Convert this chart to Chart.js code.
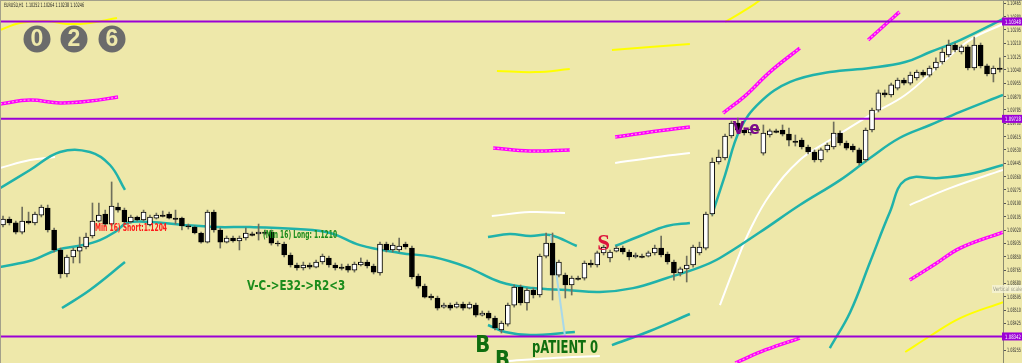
<script src="https://cdn.jsdelivr.net/npm/chart.js"></script>
<style>
    body {
        margin: 0;
        padding: 0;
        background-color: #eee8aa;
    }
    canvas {
        display: block;
    }
</style>

<canvas id="chart" width="1022" height="363"></canvas>

<script>
    // EURUSD H1 candles (one entry per bar)
    const opens = [
        1.09052,1.09090,1.09065,1.09007,1.09077,1.09065,1.09115,1.09160,1.09020,1.08893,
        1.08740,1.08848,1.08886,1.08912,1.08982,1.09077,1.09122,1.09058,1.09166,1.09147,
        1.09071,1.09103,1.09084,1.09052,1.09096,1.09115,1.09122,1.09096,1.09096,1.09046,
        1.09039,1.09001,1.08943,1.09134,1.09020,1.08943,1.08969,1.08950,1.08969,1.08995,
        1.08995,1.09007,1.09007,1.08937,1.08931,1.08861,1.08797,1.08778,1.08797,1.08784,
        1.08816,1.08842,1.08797,1.08784,1.08791,1.08765,1.08797,1.08816,1.08791,1.08746,
        1.08931,1.08893,1.08893,1.08931,1.08905,1.08727,1.08663,1.08599,1.08587,1.08529,
        1.08542,1.08529,1.08548,1.08523,1.08542,1.08478,1.08491,1.08459,1.08383,1.08421,
        1.08542,1.08657,1.08555,1.08638,1.08606,1.08854,1.08937,1.08733,1.08733,1.08670,
        1.08714,1.08714,1.08810,1.08797,1.08874,1.08842,1.08886,1.08905,1.08880,1.08848,
        1.08854,1.08854,1.08874,1.08905,1.08867,1.08816,1.08746,1.08772,1.08797,1.08874,
        1.08905,1.09122,1.09453,1.09479,1.09619,1.09701,1.09657,1.09638,1.09663,1.09510,
        1.09625,1.09651,1.09657,1.09631,1.09587,1.09593,1.09549,1.09517,1.09466,1.09530,
        1.09549,1.09638,1.09574,1.09555,1.09530,1.09466,1.09657,1.09784,1.09893,1.09880,
        1.09924,1.09975,1.09956,1.09988,1.10026,1.10007,1.10052,1.10090,1.10135,1.10198,
        1.10154,1.10186,1.10052,1.10198,1.10065,1.10014,1.10052
    ];
    const highs = [
        1.09109,1.09103,1.09077,1.09166,1.09134,1.09134,1.09179,1.09179,1.09033,1.08905,
        1.08861,1.08905,1.08975,1.09001,1.09192,1.09192,1.09147,1.09326,1.09192,1.09160,
        1.09115,1.09109,1.09147,1.09115,1.09128,1.09141,1.09134,1.09147,1.09103,1.09058,
        1.09046,1.09007,1.09147,1.09147,1.09033,1.08982,1.08982,1.08982,1.09033,1.09007,
        1.09058,1.09020,1.09020,1.08950,1.08943,1.08874,1.08810,1.08816,1.08810,1.08829,
        1.08867,1.08854,1.08810,1.08803,1.08803,1.08816,1.08842,1.08829,1.08803,1.08943,
        1.08943,1.08937,1.08969,1.08943,1.08918,1.08740,1.08676,1.08612,1.08599,1.08555,
        1.08555,1.08561,1.08561,1.08561,1.08555,1.08504,1.08504,1.08472,1.08440,1.08555,
        1.08670,1.08670,1.08650,1.08650,1.08867,1.09001,1.09001,1.08829,1.08746,1.08727,
        1.08727,1.08823,1.08829,1.08886,1.08924,1.08893,1.08918,1.08918,1.08893,1.08874,
        1.08867,1.08886,1.08924,1.08982,1.08880,1.08829,1.08784,1.08854,1.08924,1.08943,
        1.09134,1.09479,1.09530,1.09631,1.09714,1.09733,1.09670,1.09676,1.09689,1.09689,
        1.09663,1.09663,1.09689,1.09670,1.09625,1.09606,1.09561,1.09530,1.09542,1.09574,
        1.09708,1.09651,1.09587,1.09568,1.09542,1.09670,1.09797,1.09912,1.09912,1.09956,
        1.09988,1.09988,1.10026,1.10039,1.10039,1.10065,1.10116,1.10179,1.10230,1.10211,
        1.10198,1.10198,1.10249,1.10211,1.10077,1.10065,1.10116
    ];
    const lows = [
        1.09039,1.09052,1.08995,1.08995,1.09058,1.09052,1.09103,1.09007,1.08880,1.08714,
        1.08721,1.08810,1.08810,1.08899,1.08969,1.09071,1.09046,1.09046,1.09134,1.09058,
        1.09065,1.09077,1.09077,1.09046,1.09090,1.09103,1.09090,1.09058,1.09020,1.09026,
        1.08995,1.08937,1.08937,1.09007,1.08905,1.08937,1.08943,1.08893,1.08956,1.08982,
        1.08956,1.08988,1.08924,1.08918,1.08848,1.08784,1.08765,1.08765,1.08772,1.08778,
        1.08803,1.08784,1.08765,1.08765,1.08752,1.08752,1.08791,1.08778,1.08740,1.08733,
        1.08880,1.08880,1.08880,1.08899,1.08708,1.08650,1.08587,1.08574,1.08510,1.08523,
        1.08510,1.08523,1.08510,1.08517,1.08466,1.08472,1.08447,1.08383,1.08364,1.08408,
        1.08529,1.08542,1.08510,1.08587,1.08593,1.08842,1.08574,1.08721,1.08587,1.08606,
        1.08701,1.08701,1.08784,1.08784,1.08861,1.08816,1.08880,1.08867,1.08829,1.08842,
        1.08842,1.08848,1.08861,1.08848,1.08803,1.08701,1.08727,1.08689,1.08784,1.08861,
        1.08893,1.09109,1.09440,1.09466,1.09606,1.09644,1.09625,1.09625,1.09651,1.09497,
        1.09612,1.09638,1.09619,1.09555,1.09555,1.09536,1.09504,1.09453,1.09453,1.09517,
        1.09536,1.09561,1.09530,1.09517,1.09434,1.09453,1.09644,1.09772,1.09867,1.09867,
        1.09912,1.09944,1.09944,1.09975,1.09995,1.09995,1.10039,1.10077,1.10122,1.10154,
        1.10141,1.10039,1.10039,1.10052,1.10001,1.09963,1.10026
    ];
    const closes = [
        1.09090,1.09065,1.09007,1.09077,1.09065,1.09122,1.09166,1.09020,1.08893,1.08740,
        1.08848,1.08893,1.08912,1.08975,1.09077,1.09115,1.09058,1.09173,1.09147,1.09071,
        1.09103,1.09084,1.09134,1.09103,1.09115,1.09106,1.09096,1.09087,1.09046,1.09039,
        1.09001,1.08943,1.09134,1.09020,1.08943,1.08969,1.08950,1.08969,1.09001,1.08986,
        1.09007,1.08998,1.08937,1.08931,1.08861,1.08797,1.08778,1.08797,1.08784,1.08816,
        1.08854,1.08797,1.08778,1.08775,1.08765,1.08803,1.08816,1.08791,1.08752,1.08931,
        1.08893,1.08924,1.08918,1.08912,1.08721,1.08663,1.08593,1.08587,1.08523,1.08542,
        1.08523,1.08548,1.08523,1.08548,1.08478,1.08491,1.08459,1.08396,1.08427,1.08542,
        1.08657,1.08555,1.08638,1.08606,1.08854,1.08937,1.08733,1.08816,1.08670,1.08714,
        1.08705,1.08810,1.08797,1.08874,1.08912,1.08880,1.08905,1.08880,1.08848,1.08861,
        1.08845,1.08874,1.08905,1.08861,1.08816,1.08746,1.08772,1.08797,1.08912,1.08912,
        1.09122,1.09453,1.09485,1.09619,1.09701,1.09657,1.09638,1.09663,1.09654,1.09638,
        1.09651,1.09642,1.09631,1.09593,1.09578,1.09549,1.09517,1.09466,1.09530,1.09561,
        1.09638,1.09574,1.09542,1.09530,1.09447,1.09657,1.09784,1.09893,1.09880,1.09944,
        1.09975,1.09956,1.10007,1.10026,1.10007,1.10052,1.10090,1.10154,1.10198,1.10167,
        1.10186,1.10052,1.10198,1.10065,1.10014,1.10052,1.10043
    ];

    // price scale labels on the right
    const tickValues = [
        1.10465, 1.10380, 1.10295, 1.10210, 1.10125, 1.10040, 1.09955, 1.09870, 1.09785, 1.09700,
        1.09615, 1.09530, 1.09445, 1.09360, 1.09275, 1.09190, 1.09105, 1.09020, 1.08935, 1.08850,
        1.08765, 1.08680, 1.08595, 1.08510, 1.08425, 1.08340, 1.08255
    ];

    // horizontal levels (purple)
    const levels = [1.10348, 1.09728, 1.08342];

    // indicator lines as [bar index, price]
    const tealMid = [[-0.47,1.08784],[4.69,1.08829],[8.45,1.08893],[12.52,1.08924],[15.18,1.08956],[17.53,1.09007],
        [19.41,1.09065],[23.0,1.09071],[28.17,1.09052],[33.49,1.09039],[38.65,1.09039],[46.0,1.09026],[51.2,1.09001],
        [55.87,1.08924],[62.13,1.08874],[67.3,1.08848],[72.6,1.08784],[77.8,1.08689],[82.9,1.08650],[88.26,1.08638],
        [93.4,1.08625],[98.6,1.08650],[103.9,1.08714],[109.1,1.08784],[112.2,1.08842],[118.5,1.09007],[124.7,1.09179],
        [131.0,1.09338],[135.7,1.09479],[140.3,1.09606],[145.1,1.09689],[149.8,1.09772],[156.5,1.09880]];

    const tealUpper = [
        [[-0.47,1.09287],[4.23,1.09402],[8.92,1.09517],[13.6,1.09517],[16.74,1.09434],[19.09,1.09275]],
        [[75.9,1.08975],[79.3,1.08995],[82.5,1.08982],[85.6,1.08988],[89.8,1.08918]],
        [[95.8,1.08918],[99.7,1.08982],[103.9,1.09046],[107.5,1.09065]],
        [[110.95,1.09115],[113.0,1.09370],[115.3,1.09657],[118.5,1.09835],[123.2,1.09963],[129.4,1.10026],
         [135.7,1.10052],[141.2,1.10090],[145.1,1.10154],[149.8,1.10230],[156.5,1.10364]]
    ];
    const tealLower = [
        [[9.23,1.08523],[13.6,1.08638],[19.09,1.08816]],
        [[75.9,1.08415],[78.6,1.08370],[82.5,1.08351],[89.5,1.08370]],
        [[95.3,1.08287],[101.25,1.08377],[107.5,1.08485]],
        [[129.4,1.08268],[132.6,1.08498],[135.7,1.08816],[138.8,1.09134],[141.2,1.09338],
         [146.6,1.09351],[151.3,1.09377],[156.5,1.09434]]
    ];
    const whiteLines = [
        [[-0.47,1.09415],[4.23,1.09466],[8.14,1.09485]],
        [[76.5,1.09109],[82.5,1.09134],[87.95,1.09128]],
        [[78.6,1.08185],[85.6,1.08204],[93.4,1.08217]],
        [[95.8,1.09447],[101.25,1.09479],[107.5,1.09510]],
        [[112.2,1.08542],[114.6,1.08797],[116.9,1.09020],[120.0,1.09243],[124.7,1.09466],[129.4,1.09593],
         [135.7,1.09752],[141.2,1.09880],[146.6,1.10071],[151.3,1.10230],[156.5,1.10332]],
        [[141.9,1.09179],[148.2,1.09287],[156.5,1.09402]]
    ];
    const magentaLines = [
        [[-0.47,1.09823],[4.23,1.09848],[8.92,1.09829],[13.6,1.09841],[18.0,1.09867]],
        [[76.7,1.09542],[82.5,1.09523],[88.7,1.09530]],
        [[95.8,1.09612],[101.25,1.09644],[107.5,1.09676]],
        [[112.7,1.09765],[116.1,1.09873],[120.0,1.10026],[124.7,1.10179]],
        [[135.4,1.10230],[138.0,1.10326],[140.3,1.10409]],
        [[114.6,1.08173],[119.3,1.08256],[124.7,1.08332]],
        [[141.9,1.08701],[145.9,1.08803],[149.8,1.08905],[156.5,1.09007]]
    ];
    const yellowLines = [
        [[-0.47,1.10294],[2.66,1.10339],[6.89,1.10351],[10.0,1.10332],[13.6,1.10339],[17.84,1.10370]],
        [[77.3,1.10033],[83.3,1.10026],[88.7,1.10045]],
        [[95.3,1.10167],[101.25,1.10186],[107.5,1.10205]],
        [[113.0,1.10345],[115.7,1.10409],[118.5,1.10485],[120.0,1.10549]],
        [[141.2,1.08243],[145.1,1.08345],[149.8,1.08459],[156.5,1.08561]]
    ];
    const trendLine = [[85.76,1.08988],[87.95,1.08345]];

    const xMin = -0.47, xMax = 156.5;
    const yMin = 1.08173, yMax = 1.10485;

    function lineSet(points, color, width, order, dash) {
        return {
            type: 'line',
            data: points.map(p => ({ x: p[0], y: p[1] })),
            borderColor: color,
            borderWidth: width,
            borderDash: dash || [],
            pointRadius: 0,
            tension: 0.4,
            fill: false,
            order: order
        };
    }

    const datasets = [];

    // candle bodies on top, wicks just under them
    datasets.push({
        type: 'bar',
        data: opens.map((o, i) => ({ x: i, y: [o, closes[i]] })),
        backgroundColor: opens.map((o, i) => closes[i] >= o ? '#ffffff' : '#000000'),
        borderColor: '#000000',
        borderWidth: 1,
        borderSkipped: false,
        barThickness: 5,
        grouped: false,
        order: 0
    });
    datasets.push({
        type: 'bar',
        data: highs.map((h, i) => ({ x: i, y: [lows[i], h] })),
        backgroundColor: '#6f6f5c',
        barThickness: 1,
        grouped: false,
        order: 1
    });

    levels.forEach(v => datasets.push(lineSet([[xMin, v], [xMax, v]], '#9b00d6', 2, 2)));

    datasets.push(lineSet(trendLine, '#a9d8e8', 2, 3));
    datasets.push(lineSet(tealMid, '#20b2aa', 2.5, 4));
    tealUpper.forEach(s => datasets.push(lineSet(s, '#20b2aa', 2.5, 4)));
    tealLower.forEach(s => datasets.push(lineSet(s, '#20b2aa', 2.5, 4)));
    whiteLines.forEach(s => datasets.push(lineSet(s, '#ffffff', 2, 5)));
    yellowLines.forEach(s => datasets.push(lineSet(s, '#ffff00', 2, 5)));
    magentaLines.forEach(s => {
        datasets.push(lineSet(s, '#ffa6d9', 1.2, 5, [2, 2]));
        datasets.push(lineSet(s, '#ff00ff', 3.5, 6));
    });

    // texts, badges and axis price boxes
    const overlay = {
        id: 'overlay',
        afterDraw(chart) {
            const ctx = chart.ctx;
            const xs = chart.scales.x, ys = chart.scales.y;
            const X = v => xs.getPixelForValue(v);
            const Y = v => ys.getPixelForValue(v);
            ctx.save();

            // frame
            ctx.fillStyle = '#a3a08a';
            ctx.fillRect(0, 0, 1022, 1);
            ctx.fillRect(0, 0, 1, 363);

            // symbol line
            ctx.fillStyle = '#222';
            ctx.font = '6px "DejaVu Sans"';
            ctx.textBaseline = 'middle';
            ctx.textAlign = 'left';
            ctx.fillText('EURUSD,H1  1.10252 1.10264 1.10238 1.10246', 4, 5, 80);

            // price scale labels (narrow, like the terminal's)
            ctx.fillStyle = '#333';
            tickValues.forEach(v => {
                ctx.fillText(v.toFixed(5), 1007, Y(v) + 0.5, 14);
            });

            // level price boxes
            levels.forEach(v => {
                const y = Y(v);
                ctx.fillStyle = '#9b00d6';
                ctx.fillRect(1002, y - 4, 20, 8);
                ctx.fillStyle = '#ffffff';
                ctx.fillText(v.toFixed(5), 1005, y + 0.5, 16);
            });

            // badges
            [['0', 37], ['2', 74], ['6', 112]].forEach(([d, cx]) => {
                ctx.beginPath();
                ctx.arc(cx, 39, 13.5, 0, Math.PI * 2);
                ctx.fillStyle = '#6b6b6b';
                ctx.fill();
                ctx.fillStyle = '#eee8aa';
                ctx.font = 'bold 23px "Liberation Sans", Arial, sans-serif';
                ctx.textAlign = 'center';
                ctx.fillText(d, cx, 40);
            });
            ctx.textAlign = 'left';

            const narrow = '"Liberation Sans Narrow", "DejaVu Sans Condensed", "Liberation Sans", sans-serif';
            ctx.textBaseline = 'middle';

            ctx.fillStyle = '#ff1a1a';
            ctx.font = 'bold 11px ' + narrow;
            ctx.fillText('Min 16) Short:1.1204', X(14.4), Y(1.09033), 72);

            ctx.fillStyle = '#1c8c1c';
            ctx.fillText('(Min 16) Long: 1.1210', X(40.7), Y(1.08988), 74);

            ctx.font = 'bold 14px ' + narrow;
            ctx.fillText('V-C->E32->R2<3', X(38.2), Y(1.08663), 98);

            ctx.fillStyle = '#dc143c';
            ctx.font = 'bold 23px "Liberation Serif", serif';
            ctx.fillText('S', X(93.0), Y(1.08931), 13);

            ctx.fillStyle = '#7b0a8c';
            ctx.font = 'bold 17px ' + narrow;
            ctx.fillText('V-e', X(114.2), Y(1.09657), 27);

            ctx.fillStyle = '#0f6e0f';
            ctx.font = 'bold 23px ' + narrow;
            ctx.fillText('B', X(73.9), Y(1.08281), 15);
            ctx.fillText('B', X(77.0), Y(1.08185), 15);
            ctx.font = 'bold 17px ' + narrow;
            ctx.fillText('pATIENT 0', X(82.8), Y(1.08268), 66);

            // axis hint box
            ctx.fillStyle = 'rgba(245,242,215,0.8)';
            ctx.fillRect(992, 285, 30, 8);
            ctx.fillStyle = '#9a9a8a';
            ctx.font = '6px "DejaVu Sans"';
            ctx.fillText('Vertical scale', 993, 289, 29);

            ctx.restore();
        }
    };

    new Chart(document.getElementById('chart').getContext('2d'), {
        type: 'bar',
        data: { datasets: datasets },
        options: {
            responsive: false,
            animation: false,
            devicePixelRatio: 1,
            layout: { padding: 0 },
            plugins: {
                legend: { display: false },
                tooltip: { enabled: false }
            },
            scales: {
                x: {
                    type: 'linear',
                    min: xMin,
                    max: xMax,
                    offset: false,
                    display: false
                },
                y: {
                    position: 'right',
                    min: yMin,
                    max: yMax,
                    afterBuildTicks: s => { s.ticks = tickValues.map(v => ({ value: v })); },
                    afterFit: s => { s.width = 19; s.paddingTop = 0; s.paddingBottom = 0; },
                    ticks: { display: false },
                    grid: { drawOnChartArea: false, tickLength: 3, color: '#555' },
                    border: { color: '#8a8a70' }
                }
            }
        },
        plugins: [overlay]
    });
</script>
